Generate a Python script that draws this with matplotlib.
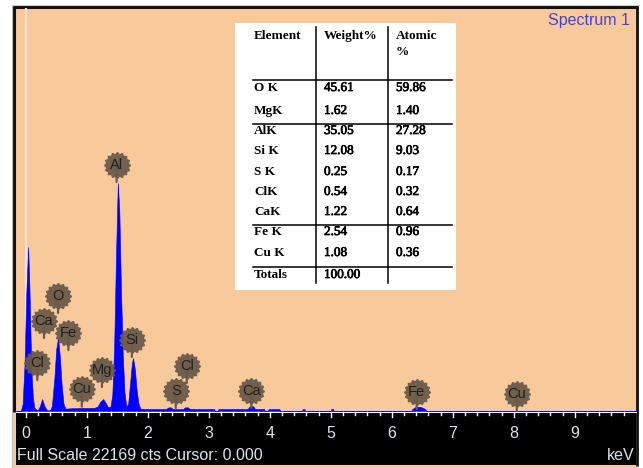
import numpy as np
import matplotlib
matplotlib.use("Agg")
import matplotlib.pyplot as plt
import matplotlib.patheffects as pe
from matplotlib.transforms import offset_copy
from matplotlib.patches import Rectangle

# ---- spectrum (energy in keV, counts) ----
energy = [-0.16, -0.08, -0.05, -0.02, 0.01, 0.04, 0.06, 0.08, 0.10, 0.12, 0.14,
          0.17, 0.20, 0.23, 0.27, 0.31, 0.35, 0.40, 0.43, 0.47, 0.50, 0.53, 0.56,
          0.59, 0.62, 0.65, 0.75, 0.85, 0.95, 1.05, 1.13, 1.18, 1.22, 1.27, 1.31,
          1.35, 1.39, 1.42, 1.45, 1.48, 1.51, 1.535, 1.56, 1.59, 1.62, 1.65, 1.68,
          1.71, 1.74, 1.76, 1.79, 1.82, 1.85, 1.88, 1.95, 2.30, 2.34, 2.38, 2.41,
          2.58, 2.61, 2.66, 2.69, 3.09, 3.10, 3.15, 3.16, 3.64, 3.67, 3.73, 3.76,
          3.91, 3.92, 3.97, 3.98, 4.16, 4.17, 4.53, 4.54, 4.57, 4.58, 5.00, 5.01,
          5.04, 5.05, 6.32, 6.34, 6.39, 6.47, 6.55, 6.57, 10.1]
counts = [0, 0, 400, 2500, 6500, 9020, 7000, 4000, 1800, 700, 200,
          80, 60, 250, 660, 250, 40, 40, 300, 1800, 3400, 4015, 3000,
          1400, 400, 130, 150, 160, 170, 170, 180, 250, 500, 660, 450,
          200, 250, 900, 3500, 8500, 12540, 11000, 7000, 3200, 1000, 250, 400,
          1500, 2600, 2915, 2300, 1100, 400, 130, 110, 110, 200, 200, 110,
          110, 200, 200, 110, 110, 0, 0, 110, 110, 260, 260, 110,
          110, 0, 0, 110, 110, 0, 0, 110, 110, 0, 0, 110,
          110, 0, 0, 110, 230, 230, 110, 0, 0]
full_scale = 22169

# ---- peak identification labels ----
peak_names = ["Cl", "Ca", "O", "Fe", "Cu", "Mg", "Al", "Si", "S", "Cl", "Ca", "Fe", "Cu"]
peak_kev = [0.19, 0.30, 0.53, 0.70, 0.92, 1.25, 1.49, 1.74, 2.46, 2.64, 3.70, 6.41, 8.05]
peak_level = [1705, 4015, 5390, 3355, 240, 1320, 12600, 2970, 165, 1540, 165, 110, 0]

# ---- quantification table ----
elements = ["O K", "MgK", "AlK", "Si K", "S K", "ClK", "CaK", "Fe K", "Cu K"]
weight_pct = ["45.61", "1.62", "35.05", "12.08", "0.25", "0.54", "1.22", "2.54", "1.08"]
atomic_pct = ["59.86", "1.40", "27.28", "9.03", "0.17", "0.32", "0.64", "0.96", "0.36"]
weight_total = "100.00"

tick_labels = ["0", "1", "2", "3", "4", "5", "6", "7", "8", "9"]

W, H = 643, 468
PEACH = "#f8ca9b"
BLUE = "#0000ff"
BADGE = "#6a5a4a"
SANS = "Liberation Sans"
SERIF = "Liberation Serif"

fig = plt.figure(figsize=(W / 100, H / 100), dpi=100)
fig.patch.set_facecolor("white")

# background panel in pixel coordinates
bg = fig.add_axes([0, 0, 1, 1], zorder=0)
bg.set_xlim(0, W)
bg.set_ylim(H, 0)
bg.axis("off")
bg.add_patch(Rectangle((13, 6), 625, 462, facecolor=PEACH, edgecolor="none"))
bg.plot([14, 14], [412, 6], color="#111111", lw=2.2, solid_capstyle="butt")
bg.plot([13, 638], [7, 7], color="#111111", lw=2.2, solid_capstyle="butt")
bg.plot([637, 637], [6, 466], color="#111111", lw=2.0, solid_capstyle="butt")
bg.plot([12, 12], [5, 468], color="#bbbbbb", lw=0.8)
bg.plot([12, 639], [5, 5], color="#cccccc", lw=0.8)

# spectrum axes
kev_per_px = 1 / 61.0
x0_px = 25.7
left_px, right_px, top_px, base_px = 16, 636, 8, 411
ax = fig.add_axes([left_px / W, (H - base_px) / H, (right_px - left_px) / W,
                   (base_px - top_px) / H], zorder=1)
ax.set_facecolor("none")
ax.set_xlim((left_px - x0_px) * kev_per_px, (right_px - x0_px) * kev_per_px)
ax.set_ylim(0, full_scale)
ax.axis("off")

ax.axvline(0, color="#f3e2d0", lw=1.6, zorder=1)
ax.fill_between(energy, 0, counts, color=BLUE, lw=0.4, edgecolor=BLUE, zorder=2)

# gear-shaped badge marker
t = np.linspace(0, 2 * np.pi, 161)
r = 1 + 0.07 * np.cos(16 * t)
gear = list(zip(r * np.cos(t), r * np.sin(t)))
lift = 12.5  # points between the peak and the badge centre
for name, kev, lvl in zip(peak_names, peak_kev, peak_level):
    ax.annotate("", xy=(kev, lvl), xytext=(0, lift), textcoords="offset points",
                arrowprops=dict(arrowstyle="-", color=BADGE, lw=1.6,
                                shrinkA=0, shrinkB=0), zorder=3)
    tr = offset_copy(ax.transData, fig=fig, x=0, y=lift, units="points")
    ax.plot([kev], [lvl], marker=gear, markersize=19.5, color=BADGE,
            markeredgewidth=0, alpha=0.95, transform=tr, zorder=4, clip_on=False)
    ax.annotate(name, xy=(kev, lvl), xytext=(0, lift), textcoords="offset points",
                ha="center", va="center", fontsize=10.5, family=SANS,
                color="#231e19", zorder=5)

# overlay: scale band, labels and table in pixel coordinates
ov = fig.add_axes([0, 0, 1, 1], zorder=2)
ov.set_facecolor("none")
ov.set_xlim(0, W)
ov.set_ylim(H, 0)
ov.axis("off")

ov.add_patch(Rectangle((16, 412), 620, 53, facecolor="black", edgecolor="none"))
ov.plot([16, 636], [412, 412], color="white", lw=0.8)
kev_to_px = lambda k: x0_px + k / kev_per_px
for i in range(0, 51):
    k = i * 0.2
    xp = kev_to_px(k)
    if xp > 635:
        break
    ln = 5 if i % 5 == 0 else 3
    ov.plot([xp, xp], [412, 412 + ln], color="white", lw=1.0)
for i, lab in enumerate(tick_labels):
    ov.text(kev_to_px(i), 434, lab, ha="center", va="center", fontsize=11.5,
            family=SANS, color="#dfe3ea")
ov.text(17, 456, "Full Scale %d cts Cursor: 0.000" % full_scale, ha="left",
        va="center", fontsize=11.5, family=SANS, color="#dfe3ea")
ov.text(635, 456, "keV", ha="right", va="center", fontsize=11.5,
        family=SANS, color="#dfe3ea")
ov.text(630, 21, "Spectrum 1", ha="right", va="center", fontsize=11.5,
        family=SANS, color="#4343d6")

# quantification table
ov.add_patch(Rectangle((235, 23), 221, 267, facecolor="white", edgecolor="none"))
for xv in (316, 388):
    ov.plot([xv, xv], [27, 283], color="black", lw=1.1)
for yh in (80, 124, 225, 267):
    ov.plot([253, 452], [yh, yh], color="black", lw=1.1)

ts = 9.5
heavy = [pe.withStroke(linewidth=0.5, foreground="black")]
ov.text(254, 36, "Element", fontsize=ts, family=SERIF, weight="bold", va="center")
ov.text(324, 36, "Weight%", fontsize=ts, family=SERIF, weight="bold", va="center")
ov.text(396, 36, "Atomic", fontsize=ts, family=SERIF, weight="bold", va="center")
ov.text(396, 52, "%", fontsize=ts, family=SERIF, weight="bold", va="center")
row_y = [88, 111, 131, 151, 172, 192, 212, 232, 253]
for y, el, wt, at in zip(row_y, elements, weight_pct, atomic_pct):
    ov.text(254, y, el, fontsize=ts, family=SERIF, weight="bold", va="center")
    ov.text(324, y, wt, fontsize=ts, family=SERIF, va="center", path_effects=heavy)
    ov.text(396, y, at, fontsize=ts, family=SERIF, va="center", path_effects=heavy)
ov.text(254, 275, "Totals", fontsize=ts, family=SERIF, weight="bold", va="center")
ov.text(324, 275, weight_total, fontsize=ts, family=SERIF, va="center",
        path_effects=heavy)

fig.savefig("out.png", dpi=100)
